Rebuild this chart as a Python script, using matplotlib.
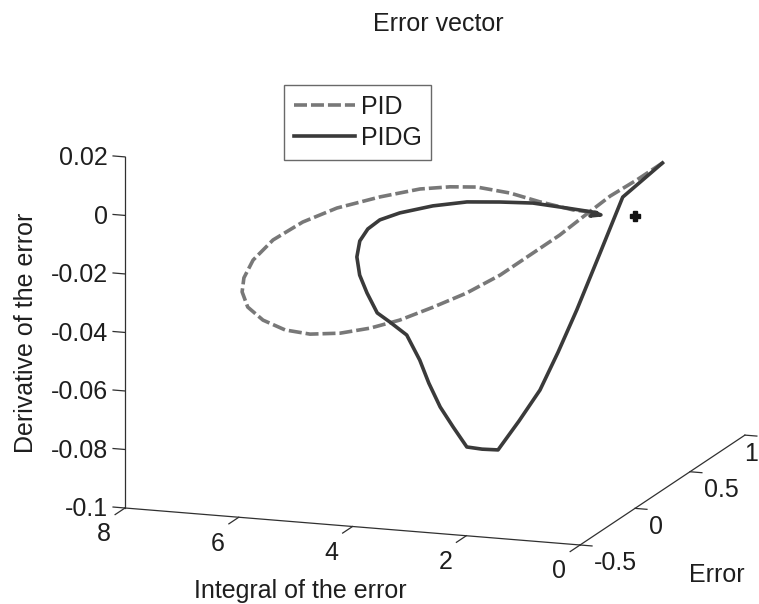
import numpy as np
import matplotlib
matplotlib.use("Agg")
import matplotlib.pyplot as plt
import matplotlib.transforms as mtransforms

plt.rcParams['font.family'] = ['Liberation Sans', 'DejaVu Sans']

# ---------------- data (integral of error, error, derivative of error) -------------
pid_integral = [0.00, 0.43, 0.88, 1.34, 1.71, 2.14, 2.68, 3.23, 3.78, 4.33,
                4.81, 5.30, 5.79, 6.19, 6.54, 6.77, 6.83, 6.76, 6.56, 6.17,
                5.61, 4.97, 4.19, 3.49, 2.98, 2.55, 2.00, 1.54, 1.01, 0.67]
pid_error = [0.25, 0.24, 0.23, 0.22, 0.20, 0.18, 0.16, 0.14, 0.12, 0.10,
             0.08, 0.06, 0.04, 0.02, 0.00, -0.02, -0.04, -0.06, -0.08, -0.10,
             -0.12, -0.14, -0.15, -0.15, -0.14, -0.12, -0.10, -0.07, -0.04, 0.00]
pid_derivative = [0.0118, 0.0056, -0.0004, -0.0080, -0.0143, -0.0206, -0.0285, -0.0350, -0.0402, -0.0450,
                  -0.0480, -0.0500, -0.0506, -0.0493, -0.0460, -0.0414, -0.0358, -0.0304, -0.0235, -0.0155,
                  -0.0080, -0.0017, 0.0036, 0.0074, 0.0087, 0.0088, 0.0071, 0.0041, 0.0014, 0.0000]

pidg_integral = [0.00, 0.68, 1.04, 1.41, 1.70, 1.98, 2.31, 2.64, 2.90, 3.15,
                 3.37, 3.58, 3.76, 3.90, 4.11, 4.39, 4.59, 4.75, 4.86, 4.89,
                 4.80, 4.62, 4.37, 3.98, 3.38, 2.78, 2.22, 1.68, 1.14, 0.67,
                 0.81, 0.59, 0.69]
pidg_error = [0.25, 0.24, 0.22, 0.20, 0.18, 0.16, 0.14, 0.12, 0.11, 0.10,
              0.09, 0.08, 0.07, 0.06, 0.05, 0.04, 0.03, 0.02, 0.01, 0.00,
              -0.02, -0.04, -0.06, -0.08, -0.09, -0.09, -0.08, -0.06, -0.03, 0.00,
              0.01, -0.005, 0.00]
pidg_derivative = [0.0118, -0.0007, -0.0199, -0.0394, -0.0538, -0.0667, -0.0773, -0.0872, -0.0871, -0.0865,
                   -0.0798, -0.0730, -0.0649, -0.0570, -0.0485, -0.0442, -0.0412, -0.0344, -0.0282, -0.0218,
                   -0.0157, -0.0108, -0.0068, -0.0033, 0.0003, 0.0026, 0.0032, 0.0032, 0.0016, 0.0000,
                   -0.0016, -0.0005, -0.0001]

origin_point = [0.0, 0.0, 0.0]

x_ticks = [0, 2, 4, 6, 8]
x_tick_labels = ['0', '2', '4', '6', '8']
y_ticks = [-0.5, 0, 0.5, 1]
y_tick_labels = ['-0.5', '0', '0.5', '1']
z_ticks = [-0.1, -0.08, -0.06, -0.04, -0.02, 0, 0.02]
z_tick_labels = ['-0.1', '-0.08', '-0.06', '-0.04', '-0.02', '0', '0.02']

title_text = 'Error vector'
x_label = 'Integral of the error'
y_label = 'Error'
z_label = 'Derivative of the error'
series_names = ['PID', 'PIDG']

# ---------------- figure ---------------------------------------------------
W, H = 759, 604
fig = plt.figure(figsize=(W / 100, H / 100), dpi=100)
fig.patch.set_facecolor('white')
S0 = 400
ax = fig.add_axes([100 / W, 100 / H, S0 / W, S0 / H], projection='3d')
ax.set_proj_type('ortho')
ax.set_box_aspect((482, 500, 361))
ax.view_init(elev=13.46, azim=-70.75)
ax.set_xlim(8, 0)
ax.set_ylim(-0.5, 1)
ax.set_zlim(-0.1, 0.02)
ax.set_axis_off()

TXT = '#1e1e1e'
AXC = '#303030'
FS = 18

l_pid, = ax.plot(pid_integral, pid_error, pid_derivative, color='#787878',
                 lw=2.6, linestyle=(0, (3.6, 1.1)), solid_capstyle='butt')
l_pidg, = ax.plot(pidg_integral, pidg_error, pidg_derivative, color='#3a3a3a',
                  lw=2.6, solid_joinstyle='round')
ax.plot([origin_point[0]], [origin_point[1]], [origin_point[2]], linestyle='none',
        marker='P', markersize=7, color='#111111')

# axis lines (MATLAB-like, no box)
xl, yl, zl = (8, 0), (-0.5, 1), (-0.1, 0.02)
ax.plot([xl[0], xl[0]], [yl[0], yl[0]], [zl[0], zl[1]], color=AXC, lw=0.9)
ax.plot([xl[1], xl[0]], [yl[0], yl[0]], [zl[0], zl[0]], color=AXC, lw=0.9)
ax.plot([xl[1], xl[1]], [yl[0], yl[1]], [zl[0], zl[0]], color=AXC, lw=0.9)
for zt in z_ticks:
    ax.plot([8, 8.21], [-0.5, -0.5], [zt, zt], color=AXC, lw=0.9)
for xt in x_ticks:
    ax.plot([xt, xt], [-0.5, -0.59], [-0.1, -0.1], color=AXC, lw=0.9)
for yt in y_ticks:
    ax.plot([0, -0.21], [yt, yt], [-0.1, -0.1], color=AXC, lw=0.9)

ax.set_xlim(8, 0)
ax.set_ylim(-0.5, 1)
ax.set_zlim(-0.1, 0.02)

fig.canvas.draw()


def to_disp(x, y, z):
    M = ax.get_proj()
    v = M @ np.array([x, y, z, 1.0])
    return ax.transData.transform((v[0] / v[3], v[1] / v[3]))


# fit the projected box onto the reference frame corners (image px coords)
corners = [(8, -0.5, -0.1), (0, -0.5, -0.1), (0, 1, -0.1), (8, -0.5, 0.02)]
targets = [(125, 508), (580, 545), (745, 435), (125, 157)]
rows, rhs = [], []
for c, t in zip(corners, targets):
    q = ax.transAxes.inverted().transform(to_disp(*c))
    rows.append([1, 0, q[0]]); rhs.append(t[0])
    rows.append([0, 1, q[1]]); rhs.append(H - t[1])
sol = np.linalg.lstsq(np.array(rows, float), np.array(rhs, float), rcond=None)[0]
l0, b0, S = sol
ax.set_position([l0 / W, b0 / H, S / W, S / H])
fig.canvas.draw()

ident = mtransforms.IdentityTransform()
renderer = fig.canvas.get_renderer()


def put(px, py, s, **kw):
    # px, py in image coordinates (origin top-left)
    t = fig.text(px, H - py, s, transform=ident, color=TXT,
                 fontsize=kw.pop('fontsize', FS), **kw)
    bb = t.get_window_extent(renderer)
    if bb.x1 > W - 1:
        t.set_x(px - (bb.x1 - (W - 1)))
    return t


for zt, lab in zip(z_ticks, z_tick_labels):
    d = to_disp(8, -0.5, zt)
    put(d[0] - 17, H - d[1] + 8.5, lab, ha='right', va='baseline')
for xt, lab in zip(x_ticks, x_tick_labels):
    d = to_disp(xt, -0.5, -0.1)
    put(d[0] - 21, H - d[1] + 33.5, lab, ha='center', va='baseline')
for yt, lab in zip(y_ticks, y_tick_labels):
    d = to_disp(0, yt, -0.1)
    put(d[0] + 14, H - d[1] + 25.5, lab, ha='left', va='baseline')

put(438, 31, title_text, ha='center', va='baseline')
put(300, 598, x_label, ha='center', va='baseline')
put(717, 582, y_label, ha='center', va='baseline')
put(33, 333, z_label, ha='center', va='baseline', rotation=90, rotation_mode='anchor')

leg = fig.legend([l_pid, l_pidg], series_names, loc='upper left',
                 bbox_to_anchor=(284 / W, 1 - 85 / H), borderaxespad=0,
                 fontsize=FS, frameon=True, fancybox=False, edgecolor='#444444',
                 handlelength=2.45, handletextpad=0.25, borderpad=0.38,
                 labelspacing=0.3)
leg.get_frame().set_linewidth(1.0)
for t in leg.get_texts():
    t.set_color(TXT)

fig.savefig('out.png', dpi=100, facecolor='white')
